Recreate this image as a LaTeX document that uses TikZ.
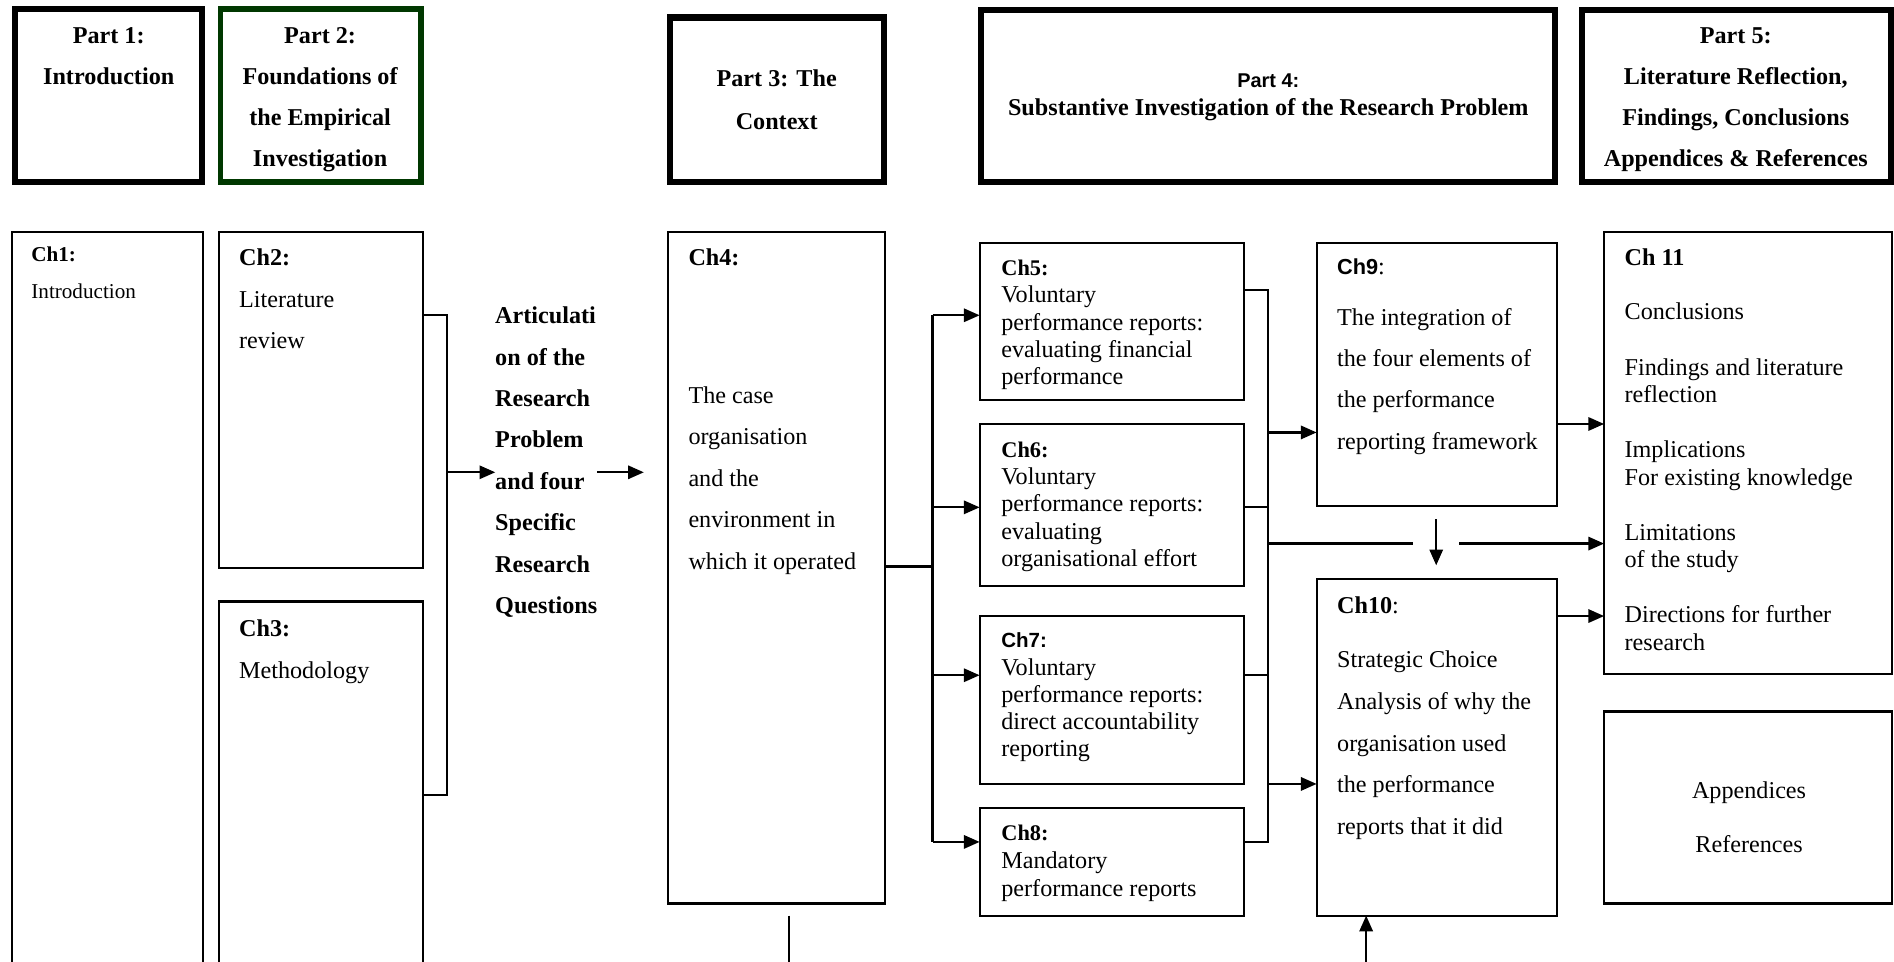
\documentclass[tikz,border=0pt]{standalone}
\usepackage{fontspec}
\setmainfont{Liberation Serif}
\setsansfont{Liberation Sans}
\usetikzlibrary{arrows.meta}
\definecolor{partgreen}{RGB}{0,56,0}
\newcommand\setfs[2]{\fontsize{#1pt}{#2pt}\selectfont}
\tikzset{
  chbox/.style={draw, line width=1.8pt, inner sep=0pt, outer sep=0pt, anchor=north west},
  partbox/.style={draw, line width=5pt, inner sep=0pt, outer sep=0pt, anchor=north west},
  txt/.style={inner sep=0pt, outer sep=0pt, anchor=north west, align=left},
  ctxt/.style={inner sep=0pt, outer sep=0pt, anchor=north, align=center},
  wire/.style={line width=1.8pt},
  arr/.style={wire, -{Triangle[length=13pt,width=11pt]}},
}
\begin{document}
\begin{tikzpicture}[x=1pt,y=-1pt]
\useasboundingbox (0,0) rectangle (1568,796);
\clip (0,0) rectangle (1568,796);

% ---- part headers ----
\node[partbox, minimum width=155pt, minimum height=143pt] (p1) at (12.5,7.5) {};
\node[partbox, draw=partgreen, line width=4.5pt, minimum width=166pt, minimum height=143pt] (p2) at (182.5,7.5) {};
\node[partbox, minimum width=177pt, minimum height=136pt] (p3) at (554.5,14.5) {};
\node[partbox, minimum width=475pt, minimum height=142pt] (p4) at (812.5,8.5) {};
\node[partbox, minimum width=256pt, minimum height=142pt] (p5) at (1309.5,8.5) {};

\node[ctxt, font={\bfseries\setfs{20}{33.5}}] (pt1) at (90,23) {Part 1:\\Introduction};
\node[ctxt, font={\bfseries\setfs{20}{34}}] (pt2) at (265,23) {Part 2:\\Foundations of\\the Empirical\\Investigation};
\node[ctxt, font={\bfseries\setfs{20}{35}}] (pt3) at (643,58) {Part 3: The\\Context};
\node[ctxt, font={\bfseries\setfs{20}{23}}] (pt4) at (1050,61) {{\sffamily\setfs{16.5}{23}Part 4:}\\Substantive Investigation of the Research Problem};
\node[ctxt, font={\bfseries\setfs{20}{34}}] (pt5) at (1437,23) {Part 5:\\Literature Reflection,\\Findings, Conclusions\\Appendices \& References};

% ---- chapter boxes ----
\node[chbox, minimum width=158pt, minimum height=640pt] (ch1) at (10,192) {};
\node[chbox, minimum width=169pt, minimum height=278pt] (ch2) at (181,192) {};
\node[chbox, minimum width=169pt, minimum height=340pt] (ch3) at (181,498) {};
\node[chbox, minimum width=180pt, minimum height=556pt] (ch4) at (553,192) {};
\node[chbox, minimum width=219pt, minimum height=130pt] (ch5) at (811,201) {};
\node[chbox, minimum width=219pt, minimum height=134pt] (ch6) at (811,351) {};
\node[chbox, minimum width=219pt, minimum height=139pt] (ch7) at (811,510) {};
\node[chbox, minimum width=219pt, minimum height=89pt] (ch8) at (811,669) {};
\node[chbox, minimum width=199pt, minimum height=218pt] (ch9) at (1090,201) {};
\node[chbox, minimum width=199pt, minimum height=279pt] (ch10) at (1090,479) {};
\node[chbox, minimum width=238pt, minimum height=366pt] (ch11) at (1328,192) {};
\node[chbox, minimum width=238pt, minimum height=159pt] (app) at (1328,589) {};

% ---- chapter texts ----
\node[txt, font={\setfs{17.5}{31}}] (t1) at (26,204) {\textbf{Ch1:}\\Introduction};
\node[txt, font={\setfs{20}{34.5}}] (t2) at (198,206) {\textbf{Ch2:}\\Literature\\review};
\node[txt, font={\setfs{20}{35}}] (t3) at (198,513) {\textbf{Ch3:}\\Methodology};
\node[txt, font={\bfseries\setfs{20}{34.3}}] (art) at (410,254) {Articulati\\on of the\\Research\\Problem\\and four\\Specific\\Research\\Questions};
\node[txt, font={\bfseries\setfs{20}{34}}] (t4a) at (570,206) {Ch4:};
\node[txt, font={\setfs{20}{34.3}}] (t4) at (570,320) {The case\\organisation\\and the\\environment in\\which it operated};
\node[txt, font={\setfs{20}{22.7}}] (t5) at (829,215) {{\bfseries\setfs{18.5}{22.7}Ch5:}\\Voluntary\\performance reports:\\evaluating financial\\performance};
\node[txt, font={\setfs{20}{22.5}}] (t6) at (829,366) {{\bfseries\setfs{18.5}{22.5}Ch6:}\\Voluntary\\performance reports:\\evaluating\\organisational effort};
\node[txt, font={\setfs{20}{22.5}}] (t7) at (829,524) {{\sffamily\bfseries\setfs{17}{22.5}Ch7:}\\Voluntary\\performance reports:\\direct accountability\\reporting};
\node[txt, font={\setfs{20}{23}}] (t8) at (829,683) {{\bfseries\setfs{18.5}{23}Ch8:}\\Mandatory\\performance reports};
\node[txt, font={\setfs{20}{34}}] (t9a) at (1107,214) {{\sffamily\bfseries\setfs{18}{34}Ch9}:};
\node[txt, font={\setfs{20}{34.3}}] (t9) at (1107,255) {The integration of\\the four elements of\\the performance\\reporting framework};
\node[txt, font={\setfs{20}{34}}] (t10a) at (1107,494) {\textbf{Ch10}:};
\node[txt, font={\setfs{20}{34.5}}] (t10) at (1107,539) {Strategic Choice\\Analysis of why the\\organisation used\\the performance\\reports that it did};
\node[txt, font={\bfseries\setfs{20}{34}}] (t11a) at (1345,206) {Ch 11};
\node[txt, font={\setfs{20}{22.8}}] (t11) at (1345,251) {Conclusions\\[22.8pt]Findings and literature\\reflection\\[22.8pt]Implications\\For existing knowledge\\[22.8pt]Limitations\\of the study\\[22.8pt]Directions for further\\research};
\node[ctxt, font={\setfs{20}{45}}] (tapp) at (1448,647) {Appendices\\References};

% ---- connectors: literature and method into the research problem ----
\coordinate (a1) at (370,261);
\coordinate (a2) at (370,658);
\coordinate (a3) at (370,391);
\coordinate (a4) at (533,391);
\draw[wire] (ch2.east |- a1) -- (a1) -- (a2) -- (ch3.east |- a2);
\draw[arr] (a3) -- (art.west |- a3);
\draw[arr] (art.east |- a3) -- (a4);

% ---- context into the four report chapters ----
\coordinate (b0) at (772,469);
\coordinate (b1) at (772,261);
\coordinate (b2) at (772,420);
\coordinate (b3) at (772,559);
\coordinate (b4) at (772,697);
\draw[wire] (ch4.east |- b0) -- (b0);
\draw[wire] (b1) -- (b4);
\draw[arr] (b1) -- (ch5.west |- b1);
\draw[arr] (b2) -- (ch6.west |- b2);
\draw[arr] (b3) -- (ch7.west |- b3);
\draw[arr] (b4) -- (ch8.west |- b4);

% ---- report chapters into synthesis ----
\coordinate (c1) at (1050,240);
\coordinate (c2) at (1050,420);
\coordinate (c3) at (1050,559);
\coordinate (c4) at (1050,697);
\coordinate (c5) at (1050,358);
\coordinate (c6) at (1050,450);
\coordinate (c7) at (1050,649);
\coordinate (g1) at (1170,450);
\coordinate (g2) at (1208,450);
\draw[wire] (ch5.east |- c1) -- (c1) -- (c4) -- (ch8.east |- c4);
\draw[wire] (ch6.east |- c2) -- (c2);
\draw[wire] (ch7.east |- c3) -- (c3);
\draw[arr] (c5) -- (ch9.west |- c5);
\draw[wire] (c6) -- (g1);
\draw[arr] (g2) -- (ch11.west |- g2);
\draw[arr] (c7) -- (ch10.west |- c7);

\coordinate (d1) at (1189,430);
\coordinate (d2) at (1189,468);
\draw[arr] (d1) -- (d2);

\coordinate (e1) at (1300,351);
\coordinate (e2) at (1300,510);
\draw[arr] (ch9.east |- e1) -- (ch11.west |- e1);
\draw[arr] (ch10.east |- e2) -- (ch11.west |- e2);

% ---- lines leaving the lower edge ----
\coordinate (f1) at (653,758);
\coordinate (f2) at (653,800);
\draw[wire] (f1) -- (f2);
\coordinate (h1) at (1131,800);
\draw[arr] (h1) -- (ch10.south -| h1);
\end{tikzpicture}
\end{document}
